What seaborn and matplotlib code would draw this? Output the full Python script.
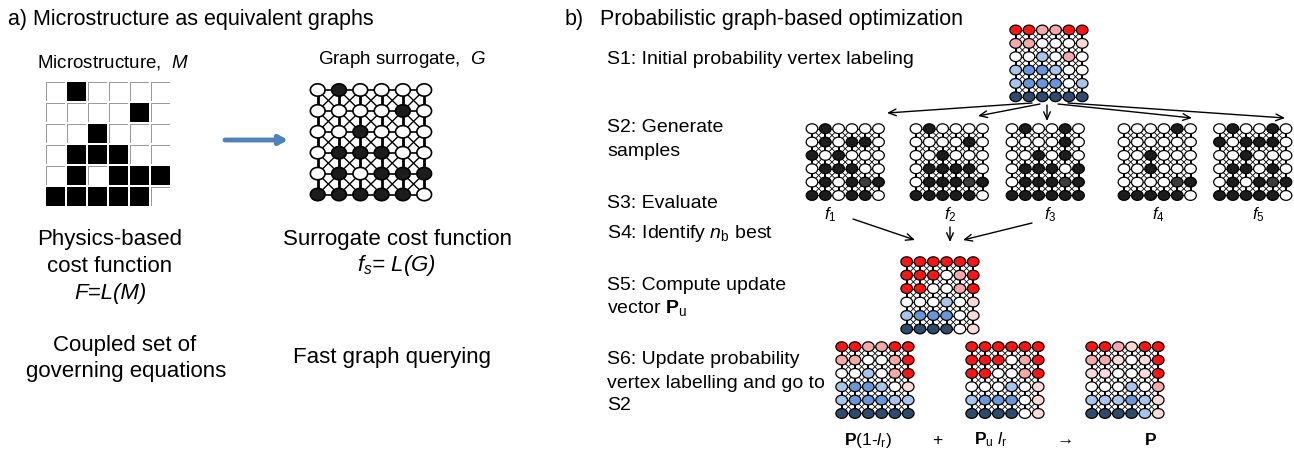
import matplotlib
matplotlib.use("Agg")
import matplotlib.pyplot as plt
from matplotlib.collections import LineCollection
from matplotlib.colors import ListedColormap
from matplotlib.path import Path
import seaborn as sns
import numpy as np
import pandas as pd

sns.set_theme(style="white")
plt.rcParams['font.family'] = ['Liberation Sans', 'DejaVu Sans']
plt.rcParams['text.color'] = 'black'
plt.rcParams['mathtext.fontset'] = 'custom'
plt.rcParams['mathtext.rm'] = 'Liberation Sans'
plt.rcParams['mathtext.it'] = 'Liberation Sans:italic'
plt.rcParams['mathtext.bf'] = 'Liberation Sans:bold'

# microstructure M (1 = black phase)
micro = [[0, 1, 0, 0, 0, 0],
         [0, 0, 0, 0, 1, 0],
         [0, 0, 1, 0, 0, 0],
         [0, 1, 1, 1, 0, 0],
         [0, 1, 0, 1, 1, 1],
         [1, 1, 1, 1, 1, 0]]

# sampled graphs (0 white, 1 black, 2 dark grey)
sample_f1 = ["010000", "010110", "101000", "011100", "010121", "110110"]
sample_f2 = ["010000", "000010", "001000", "011110", "011121", "111110"]
sample_f3 = ["010010", "000010", "001010", "011101", "011121", "111111"]
sample_f4 = ["000010", "000000", "001000", "001000", "000021", "111110"]
sample_f5 = ["010010", "101110", "001000", "011010", "010121", "111110"]
samples = [sample_f1, sample_f2, sample_f3, sample_f4, sample_f5]
sample_labels = [r'$f_1$', r'$f_2$', r'$f_3$', r'$f_4$', r'$f_5$']

# probability labelling levels: +3 red ... 0 white ... -3 dark blue
p_init = [[3, 3, 2, 2, 3, 3],
          [2, 2, 0, 0, 0, 1],
          [0, 0, -1, 0, 2, 0],
          [-1, -2, -2, -1, 0, 0],
          [-1, -2, -2, -2, 0, -1],
          [-3, -3, -3, -3, -3, -3]]
p_update = [[3, 3, 3, 3, 3, 3],
            [3, 3, 3, 0, 2, 3],
            [3, 3, 0, 0, 2, 3],
            [0, 0, 0, -1, 0, 1],
            [-1, -2, -2, -2, 0, 1],
            [-3, -3, -3, -3, 0, 1]]
p_old = [[3, 3, 2, 2, 3, 3],
         [2, 2, 0, 0, 2, 3],
         [0, 0, -1, 0, 2, 3],
         [-1, -2, -2, -1, 0, 1],
         [-1, -2, -2, -2, -1, -1],
         [-3, -3, -3, -3, -3, -3]]
p_new = [[3, 3, 2, 1, 3, 3],
         [2, 2, 1, 0, 1, 3],
         [1, 1, 0, 0, 1, 3],
         [0, 0, 0, -1, 0, 2],
         [-1, -1, -1, -2, -1, 1],
         [-3, -3, -3, -3, -1, 1]]

prob_pal = {3: '#ff1414', 2: '#f6a8aa', 1: '#fcdada', 0: '#ffffff',
            -1: '#a9c4ea', -2: '#6796da', -3: '#2e4a6c'}
bw_pal = {0: '#ffffff', 1: '#1c1c1c', 2: '#3c3c3c'}

# slightly flattened node marker
_t = np.linspace(0, 2 * np.pi, 61)
node_marker = Path(np.column_stack([np.cos(_t), 0.84 * np.sin(_t)]), closed=True)


def draw_graph(ax, grid, x0, y0, dx, dy, palette, s, lw_node=0.9,
               lw_v=1.4, lw_h=0.8, lw_d=0.6):
    vals = np.array([[int(c) for c in row] for row in grid])
    nr, nc = vals.shape
    xs = x0 + dx * np.arange(nc)
    ys = y0 + dy * np.arange(nr)
    vert, horiz, diag = [], [], []
    for i in range(nr):
        for j in range(nc):
            if j < nc - 1:
                horiz.append([(xs[j], ys[i]), (xs[j + 1], ys[i])])
            if i < nr - 1:
                vert.append([(xs[j], ys[i]), (xs[j], ys[i + 1])])
            if i < nr - 1 and j < nc - 1:
                diag.append([(xs[j], ys[i]), (xs[j + 1], ys[i + 1])])
                diag.append([(xs[j + 1], ys[i]), (xs[j], ys[i + 1])])
    ax.add_collection(LineCollection(diag, colors='black', linewidths=lw_d, zorder=1))
    ax.add_collection(LineCollection(horiz, colors='black', linewidths=lw_h, zorder=1))
    ax.add_collection(LineCollection(vert, colors='black', linewidths=lw_v, zorder=1))
    gx, gy = np.meshgrid(xs, ys)
    df = pd.DataFrame({'x': gx.ravel(), 'y': gy.ravel(), 'v': vals.ravel()})
    sns.scatterplot(data=df, x='x', y='y', hue='v', palette=palette, s=s,
                    marker=node_marker, edgecolor='black', linewidth=lw_node,
                    legend=False, ax=ax, zorder=3)


fig = plt.figure(figsize=(12.94, 4.5), dpi=100)
ax = fig.add_axes([0, 0, 1, 1])

# ---- panel a ----
ax.text(8, 20, "a) Microstructure as equivalent graphs", fontsize=15.5, va='center')
ax.text(113, 62, r"Microstructure,  $M$", fontsize=13.5, ha='center', va='center')
ax.text(318, 60, r"Graph surrogate,  $G$", fontsize=13.5, ha='left', va='center')

draw_graph(ax, [''.join(str(v) for v in r) for r in micro], 317.7, 90, 21.3, 20.9,
           bw_pal, s=112, lw_node=1.2, lw_v=2.0, lw_h=1.2, lw_d=1.0)

ax.annotate("", xy=(288, 140), xytext=(225, 140),
            arrowprops=dict(arrowstyle='-|>,head_width=0.22,head_length=0.4',
                            lw=3.5, color='#4f81bd', shrinkA=0, shrinkB=0))

fa = 16
ax.text(110, 240, "Physics-based", fontsize=fa, ha='center', va='center')
ax.text(110, 267, "cost function", fontsize=fa, ha='center', va='center')
ax.text(110, 293, "F=L(M)", fontsize=fa, ha='center', va='center', style='italic')
ax.text(125, 345, "Coupled set of", fontsize=fa, ha='center', va='center')
ax.text(126, 371, "governing equations", fontsize=fa, ha='center', va='center')

ax.text(283, 240, "Surrogate cost function", fontsize=fa, ha='left', va='center')
ax.text(396, 266, r"$f_s$= L(G)", fontsize=fa, ha='center', va='center', style='italic')
ax.text(293, 357, "Fast graph querying", fontsize=fa, ha='left', va='center')

# ---- panel b ----
ax.text(565, 20, "b)", fontsize=15.5, va='center')
ax.text(600, 20, "Probabilistic graph-based optimization", fontsize=15.5, va='center')

fs = 14
ax.text(607, 59, "S1: Initial probability vertex labeling", fontsize=fs, va='center')
ax.text(607, 128, "S2: Generate", fontsize=fs, va='center')
ax.text(607, 151, "samples", fontsize=fs, va='center')
ax.text(607, 204, "S3: Evaluate", fontsize=fs, va='center')
ax.text(607, 233, r"S4: Identify $n_\mathrm{b}$ best", fontsize=fs, va='center')
ax.text(607, 285, "S5: Compute update", fontsize=fs, va='center')
ax.text(607, 308, r"vector $\mathbf{P}_\mathrm{u}$", fontsize=fs, va='center')
ax.text(607, 360, "S6: Update probability", fontsize=fs, va='center')
ax.text(607, 383, "vertex labelling and go to", fontsize=fs, va='center')
ax.text(607, 405, "S2", fontsize=fs, va='center')

dx, dy, s_small = 13.3, 13.35, 70
draw_graph(ax, [[str(v) for v in r] for r in p_init], 1015.7, 30, dx, dy, prob_pal, s_small)

sample_x0 = [812, 916, 1012, 1124, 1219.5]
label_x = [830, 950, 1050, 1158, 1258]
for grid, x0, lx, lab in zip(samples, sample_x0, label_x, sample_labels):
    draw_graph(ax, grid, x0, 128.7, dx, dy, bw_pal, s_small)
    ax.text(lx, 215, lab, fontsize=12, ha='center', va='center')

arrow = dict(arrowstyle='->,head_width=0.2,head_length=0.45', lw=1.0,
             color='black', shrinkA=0, shrinkB=0)
for (x1, y1), (x2, y2) in [((1032, 103), (887, 113)), ((1040, 104), (978, 116)),
                           ((1047, 105), (1047, 121)), ((1058, 104), (1192, 118)),
                           ((1068, 103), (1285, 118))]:
    ax.annotate("", xy=(x2, y2), xytext=(x1, y1), arrowprops=arrow)
for (x1, y1), (x2, y2) in [((853, 219), (915, 240)), ((950, 227), (950, 242)),
                           ((1032, 223), (963, 240))]:
    ax.annotate("", xy=(x2, y2), xytext=(x1, y1), arrowprops=arrow)

draw_graph(ax, [[str(v) for v in r] for r in p_update], 906.7, 261.7, dx, 13.45, prob_pal, s_small)
draw_graph(ax, [[str(v) for v in r] for r in p_old], 841.7, 346.7, dx, dy, prob_pal, s_small)
draw_graph(ax, [[str(v) for v in r] for r in p_update], 971.7, 346.7, dx, dy, prob_pal, s_small)
draw_graph(ax, [[str(v) for v in r] for r in p_new], 1091.7, 346.7, dx, dy, prob_pal, s_small)

ax.text(868, 440, r"$\mathbf{P}$(1-$l_\mathrm{r}$)", fontsize=12.5, ha='center', va='center')
ax.text(937, 440, "+", fontsize=12.5, ha='center', va='center')
ax.text(991, 440, r"$\mathbf{P}_\mathrm{u}$ $l_\mathrm{r}$", fontsize=12.5, ha='center', va='center')
ax.text(1065, 440, "→", fontsize=12.5, ha='center', va='center')
ax.text(1150, 440, r"$\mathbf{P}$", fontsize=12.5, ha='center', va='center')

ax.set_xlim(0, 1294)
ax.set_ylim(450, 0)
ax.axis('off')

# microstructure pixel map drawn as a heatmap in its own axes
axm = fig.add_axes([45 / 1294, 1 - 207 / 450, 126 / 1294, 126 / 450])
arr = np.array(micro)
sns.heatmap(np.zeros_like(arr), cmap=ListedColormap(['white']), cbar=False,
            linewidths=1, linecolor='#9a9a9a', xticklabels=False,
            yticklabels=False, ax=axm)
sns.heatmap(arr, mask=(arr == 0), cmap=ListedColormap(['black']), cbar=False,
            linewidths=1.2, linecolor='white', xticklabels=False,
            yticklabels=False, ax=axm)

fig.savefig("out.png", dpi=100)
